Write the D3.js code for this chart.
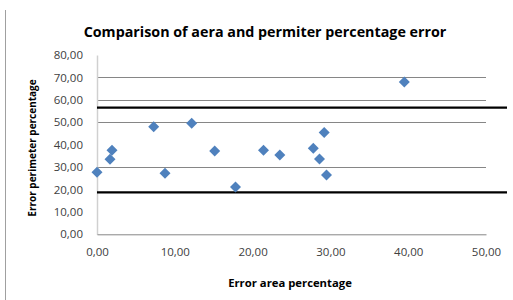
<!DOCTYPE html>
<html><head><meta charset="utf-8">
<script src="https://cdn.jsdelivr.net/npm/d3@7"></script>
<style>body{margin:0;background:#fff;}svg{display:block;}</style>
</head><body>
<script>
const areaErr = [0.0, 1.67, 1.93, 7.29, 8.74, 12.17, 15.13, 17.8, 21.4, 23.5, 27.8, 28.6, 29.2, 29.5, 39.5];
const perimErr = [27.7, 33.5, 37.5, 48.0, 27.2, 49.6, 37.2, 21.1, 37.5, 35.4, 38.4, 33.6, 45.4, 26.5, 67.9];
const xTicks = [0, 10, 20, 30, 40, 50];
const yTicks = [0, 10, 20, 30, 40, 50, 60, 70, 80];
const gridValues = [30, 50, 60, 70];
const limitLines = [56.5, 18.75];

const W = 513, H = 300;
const svg = d3.select("body").append("svg").attr("width", W).attr("height", H);
const x = d3.scaleLinear().domain([0, 50]).range([97, 486]);
const y = d3.scaleLinear().domain([0, 80]).range([234.3, 55]);
const fmt = v => d3.format(".2f")(v).replace(".", ",");
const font = "'Open Sans', Lato, sans-serif";

// left border
svg.append("line").attr("x1", 5.5).attr("x2", 5.5).attr("y1", 10).attr("y2", 300)
  .attr("stroke", "#a0a0a0").attr("stroke-width", 1);

// title
svg.append("text").attr("x", 265).attr("y", 37).attr("text-anchor", "middle")
  .attr("font-family", font).attr("font-weight", "bold").attr("font-size", 14.3)
  .attr("fill", "#000").text("Comparison of aera and permiter percentage error");

// gridlines
svg.append("g").selectAll("line").data(gridValues).join("line")
  .attr("x1", x(0)).attr("x2", x(50))
  .attr("y1", d => Math.round(y(d)) + 0.5).attr("y2", d => Math.round(y(d)) + 0.5)
  .attr("stroke", "#868686").attr("stroke-width", 1);

// y axis
const yAxis = svg.append("g").attr("transform", `translate(${x(0)},0)`)
  .call(d3.axisLeft(y).tickValues(yTicks).tickFormat(fmt).tickSize(0).tickPadding(14));
yAxis.select(".domain").attr("stroke", "#d0d0d0").attr("stroke-width", 1.5);
yAxis.selectAll("text").attr("font-family", font).attr("font-size", 11.5).attr("fill", "#404040");

// x axis
const xAxis = svg.append("g").attr("transform", `translate(0,${y(0)})`)
  .call(d3.axisBottom(x).tickValues(xTicks).tickFormat(fmt).tickSize(0).tickPadding(14));
xAxis.select(".domain").attr("stroke", "#868686").attr("stroke-width", 1);
xAxis.selectAll("text").attr("font-family", font).attr("font-size", 11.5).attr("fill", "#404040");

// limit lines
svg.append("g").selectAll("line").data(limitLines).join("line")
  .attr("x1", x(0)).attr("x2", 507)
  .attr("y1", d => y(d)).attr("y2", d => y(d))
  .attr("stroke", "#000").attr("stroke-width", 2.2);

// points
const pts = areaErr.map((a, i) => ({a, p: perimErr[i]}));
svg.append("g").selectAll("path").data(pts).join("path")
  .attr("transform", d => `translate(${x(d.a)},${y(d.p)})`)
  .attr("d", "M0,-5.5L5.5,0L0,5.5L-5.5,0Z")
  .attr("fill", "#4F81BD");

// axis titles
svg.append("text").attr("x", 290).attr("y", 287).attr("text-anchor", "middle")
  .attr("font-family", font).attr("font-weight", "bold").attr("font-size", 11.3)
  .attr("fill", "#000").text("Error area percentage");
svg.append("text").attr("transform", "translate(36,148) rotate(-90)").attr("text-anchor", "middle")
  .attr("font-family", font).attr("font-weight", "bold").attr("font-size", 10)
  .attr("fill", "#000").text("Error perimeter percentage");
</script>
</body></html>
